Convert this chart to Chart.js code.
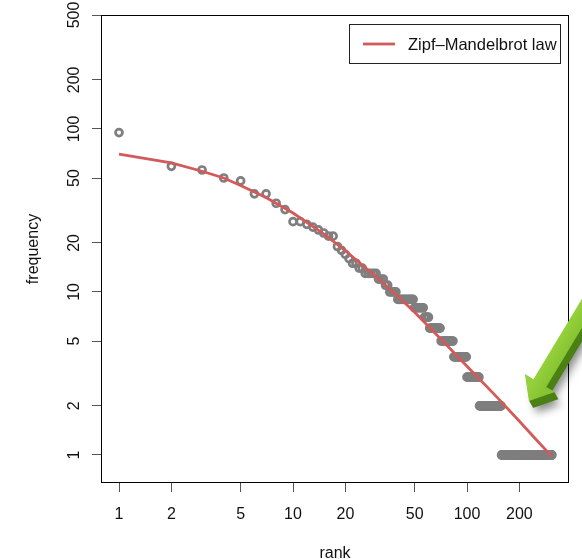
<!DOCTYPE html>
<html>
<head>
<meta charset="utf-8">
<script src="https://cdn.jsdelivr.net/npm/chart.js@4.4.1/dist/chart.umd.min.js"></script>
<style>
  html, body { margin: 0; padding: 0; background: #fff; }
  canvas { display: block; }
</style>
</head>
<body>
<canvas id="zipf" width="582" height="559"></canvas>
<script>
/* ── data ────────────────────────────────────────────────────── */
// observed frequency per rank, written as runs: value + number of ranks sharing it
const freqRuns  = [95, 59, 56, 50, 48, 40, 35, 32, 27, 26, 25, 24, 23, 22, 19, 18, 17, 16, 15, 14, 13, 12, 11, 10, 9, 8, 7, 6, 5, 4, 3, 2, 1];
const runLength = [1, 1, 1, 1, 1, 2, 1, 1, 2, 1, 1, 1, 1, 2, 1, 1, 1, 1, 2, 2, 5, 3, 2, 4, 10, 7, 4, 10, 13, 16, 18, 40, 150];

// fitted Zipf-Mandelbrot curve, sampled along the red line
const fitRanks = [1, 2, 3, 4, 5, 7, 10, 15, 20, 30, 40, 50, 70, 100, 150, 200, 250, 307];
const fitFreqs = [70, 62, 55, 50, 45, 38, 30.5, 22.7, 17.9, 12.4, 9.4, 7.5, 5.2, 3.5, 2.24, 1.61, 1.24, 0.98];

const xTicks = [1, 2, 5, 10, 20, 50, 100, 200];
const yTicks = [1, 2, 5, 10, 20, 50, 100, 200, 500];
const legendLabel = 'Zipf–Mandelbrot law';

const C = {
    red:   '#d35a5a',
    gray:  '#7f7f7f',
    ink:   '#111',
    tick:  '#555',
    light: '#86c431',
    dark:  '#4a8014',
};
const FONT = "'Liberation Sans', Arial, Helvetica, sans-serif";

Chart.defaults.font.family = FONT;
Chart.defaults.font.size   = 16;
Chart.defaults.color       = C.ink;

/* ── helpers ─────────────────────────────────────────────────── */
const points = [];
let rank = 1;
freqRuns.forEach((f, i) => {
    for (let k = 0; k < runLength[i]; k++) points.push({ x: rank++, y: f });
});
const fitLine = fitRanks.map((r, i) => ({ x: r, y: fitFreqs[i] }));

const axisGrid = { display: true, drawOnChartArea: false, drawTicks: true, tickLength: 9, tickColor: C.tick, tickWidth: 1 };

/* ── plugins: box, legend, arrow ─────────────────────────────── */
const boxPlugin = {
    id: 'box',
    afterDatasetsDraw(chart) {
        const { ctx, chartArea: a } = chart;
        ctx.save();
        ctx.strokeStyle = '#000';
        ctx.lineWidth = 1;
        ctx.strokeRect(Math.round(a.left) + 0.5, Math.round(a.top) + 0.5,
                       Math.round(a.right - a.left) - 1, Math.round(a.bottom - a.top) - 1);
        ctx.restore();
    }
};

const legendPlugin = {
    id: 'rlegend',
    afterDraw(chart) {
        const ctx = chart.ctx;
        const ds = chart.data.datasets[0];
        ctx.save();
        ctx.fillStyle = '#fff';
        ctx.fillRect(349.5, 24.5, 211, 39);
        ctx.strokeStyle = '#222';
        ctx.lineWidth = 1;
        ctx.strokeRect(349.5, 24.5, 211, 39);
        ctx.strokeStyle = ds.borderColor;
        ctx.lineWidth = ds.borderWidth;
        ctx.beginPath();
        ctx.moveTo(363, 44);
        ctx.lineTo(395, 44);
        ctx.stroke();
        ctx.fillStyle = C.ink;
        ctx.font = `16.5px ${FONT}`;
        ctx.textBaseline = 'alphabetic';
        ctx.fillText(ds.label, 408, 50);
        ctx.restore();
    }
};

const arrowPlugin = {
    id: 'arrow',
    afterDraw(chart) {
        const ctx = chart.ctx;
        const tip = [529, 401];
        const ux = 0.517, uy = -0.856, px = 0.856, py = 0.517;
        const head = 21, hw = 17.5, sw = 7.5, len = 170;
        const P = (a, b) => [tip[0] + a * ux + b * px, tip[1] + a * uy + b * py];
        const shape = [P(0, 0), P(head, -hw), P(head, -sw), P(len, -sw), P(len, sw), P(head, sw), P(head, hw)];
        const path = (dx, dy) => {
            ctx.beginPath();
            shape.forEach(([x, y], i) => i ? ctx.lineTo(x + dx, y + dy) : ctx.moveTo(x + dx, y + dy));
            ctx.closePath();
        };
        ctx.save();
        // soft drop shadow + extruded dark side
        ctx.shadowColor = 'rgba(0,0,0,.45)';
        ctx.shadowBlur = 8;
        ctx.shadowOffsetX = 3;
        ctx.shadowOffsetY = 5;
        ctx.fillStyle = C.dark;
        path(4, 7);
        ctx.fill();
        ctx.shadowColor = 'transparent';
        for (let s = 1; s <= 6; s++) {
            path(s * 4 / 7, s);
            ctx.fill();
        }
        // lit face
        const [ax, ay] = P(head, -sw), [bx, by] = P(head, sw);
        const g = ctx.createLinearGradient(ax, ay, bx, by);
        g.addColorStop(0, '#95d13c');
        g.addColorStop(1, C.light);
        ctx.fillStyle = g;
        path(0, 0);
        ctx.fill();
        ctx.restore();
    }
};

/* ── chart ───────────────────────────────────────────────────── */
new Chart(document.getElementById('zipf'), {
    type: 'scatter',
    data: {
        datasets: [
            {
                label: legendLabel,
                data: fitLine,
                showLine: true,
                borderColor: C.red,
                borderWidth: 2.8,
                pointRadius: 0,
                tension: 0,
                fill: false,
                order: 0,
            },
            {
                label: 'observed',
                data: points,
                pointStyle: 'circle',
                pointRadius: 3.5,
                pointBorderWidth: 2.7,
                pointBorderColor: C.gray,
                pointBackgroundColor: 'rgba(0,0,0,0)',
                order: 1,
            }
        ]
    },
    options: {
        responsive: false,
        animation: false,
        layout: { padding: { top: 15, right: 13, bottom: 0, left: 0 } },
        plugins: {
            legend: { display: false },
            tooltip: { enabled: false },
        },
        scales: {
            x: {
                type: 'logarithmic',
                min: 0.788, max: 385.5,
                grid: axisGrid,
                border: { display: false },
                afterBuildTicks: s => { s.ticks = xTicks.map(v => ({ value: v })); },
                afterFit: s => { s.height = 76; s.paddingLeft = 0; s.paddingRight = 0; },
                ticks: { autoSkip: false, maxRotation: 0, padding: 13, color: C.ink, callback: v => String(v) },
                title: { display: true, text: 'rank', color: C.ink, font: { size: 16, lineHeight: 0.8 }, padding: { top: 0, bottom: -1 } },
            },
            y: {
                type: 'logarithmic',
                min: 0.673, max: 500,
                grid: axisGrid,
                border: { display: false },
                afterBuildTicks: s => { s.ticks = yTicks.map(v => ({ value: v })); },
                afterFit: s => { s.width = 101; s.paddingTop = 0; s.paddingBottom = 0; },
                ticks: { autoSkip: false, minRotation: 90, maxRotation: 90, crossAlign: 'center', padding: 4, color: C.ink, callback: v => String(v) },
                title: { display: true, text: 'frequency', color: C.ink, font: { size: 16, lineHeight: 0.8 }, padding: { top: 27, bottom: 0 } },
            }
        }
    },
    plugins: [boxPlugin, legendPlugin, arrowPlugin]
});
</script>
</body>
</html>
